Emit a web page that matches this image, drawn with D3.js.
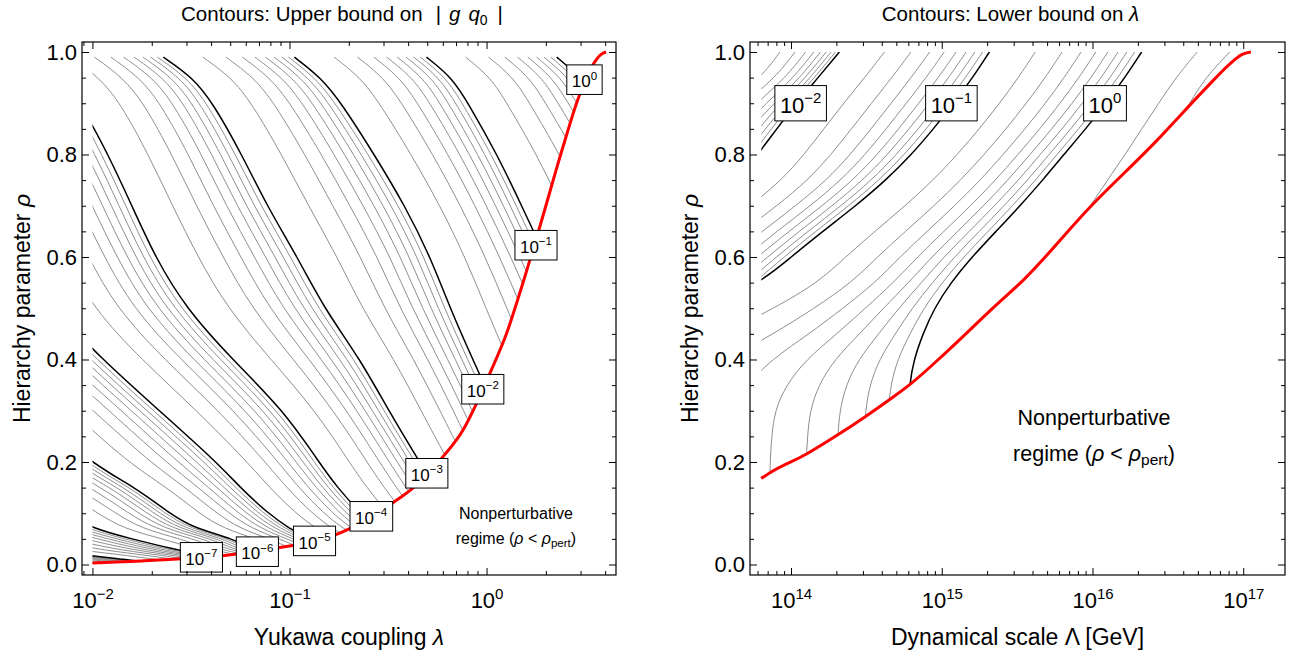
<!DOCTYPE html>
<html>
<head>
<meta charset="utf-8">
<script src="https://cdn.jsdelivr.net/npm/d3@7"></script>
<style>
  body { margin: 0; background: #fff; }
</style>
</head>
<body>
<svg id="chart" width="1298" height="657"></svg>
<script>
// ---- left panel: |g q0| contours, x = log10(lambda) where each decade line crosses a rho row
const yukRows = [0.99, 0.95, 0.9, 0.8, 0.7, 0.6, 0.5, 0.4, 0.3, 0.2, 0.15, 0.1, 0.07, 0.05, 0.03, 0.02, 0.01, 0.0];
const yukDec0  = [0.356, 0.48, 0.56, 0.72, 0.85, 0.95, null, null, null, null, null, null, null, null, null, null, null, null];
const yukDecM1 = [-0.305, -0.175, -0.093, 0.054, 0.178, 0.30, 0.42, 0.52, null, null, null, null, null, null, null, null, null, null];
const yukDecM2 = [-0.975, -0.84, -0.736, -0.57, -0.414, -0.285, -0.185, -0.07, 0.05, 0.15, null, null, null, null, null, null, null, null];
const yukDecM3 = [-1.64, -1.49, -1.388, -1.242, -1.115, -0.96, -0.825, -0.64, -0.497, -0.34, -0.26, -0.18, null, null, null, null, null, null];
const yukDecM4 = [-2.31, -2.17, -2.06, -1.92, -1.80, -1.682, -1.526, -1.29, -1.028, -0.851, -0.757, -0.64, -0.55, -0.45, null, null, null, null];
const yukDecM5 = [-3.0, -2.85, -2.74, -2.6, -2.47, -2.33, -2.2, -1.95, -1.66, -1.37, -1.25, -1.11, -1.0, -0.9, -0.75, null, null, null];
const yukDecM6 = [-3.7, -3.55, -3.42, -3.27, -3.15, -3.0, -2.87, -2.6, -2.3, -2.02, -1.78, -1.61, -1.48, -1.28, -1.2, -1.1, null, null];
const yukDecM7 = [-4.4, -4.25, -4.1, -3.95, -3.8, -3.65, -3.5, -3.25, -2.95, -2.6, -2.35, -2.13, -2.0, -1.8, -1.59, -1.45, -1.3, -1.1];
const yukDecM8 = [-5.1, -4.95, -4.8, -4.65, -4.5, -4.35, -4.2, -3.9, -3.6, -3.2, -2.95, -2.9, -2.75, -2.6, -2.35, -2.05, -1.85, -1.6];
const yukDecM9 = [null, null, null, null, null, null, null, null, null, null, null, null, null, -3.0, -2.8, -2.6, -2.3, -2.0];
// rho_pert boundary [log10(lambda), rho]
const yukRed = [[-2.0, 0.003], [-1.75, 0.007], [-1.45, 0.0135], [-1.2, 0.024], [-1.05, 0.033], [-0.88, 0.045],
  [-0.746, 0.061], [-0.68, 0.073], [-0.477, 0.12], [-0.356, 0.155], [-0.222, 0.21], [-0.12, 0.262], [-0.051, 0.314],
  [0.017, 0.373], [0.102, 0.451], [0.169, 0.53], [0.271, 0.66], [0.388, 0.815], [0.464, 0.908], [0.54, 0.975],
  [0.58, 0.995], [0.607, 1.0]];
const yukLabelExp = [0, -1, -2, -3, -4, -5, -6, -7];
const yukLabelLog = [0.497, 0.251, -0.019, -0.303, -0.586, -0.873, -1.163, -1.447];
const yukLabelRho = [0.946, 0.623, 0.342, 0.178, 0.094, 0.046, 0.025, 0.014];

// ---- right panel: lambda contours, x = log10(Lambda/GeV)
const scaleRows = [0.15, 0.2, 0.25, 0.3, 0.35, 0.4, 0.45, 0.5, 0.55, 0.6, 0.65, 0.7, 0.75, 0.8, 0.85, 0.9, 0.95, 1.0];
const scaleDecM3 = [null, null, null, null, null, null, null, null, null, null, null, null, null, 12.93, 13.12, 13.37, 13.64, 13.757];
const scaleDecM2 = [null, null, null, null, null, null, null, null, 12.81, 12.99, 13.2, 13.43, 13.64, 13.78, 13.905, 14.035, 14.18, 14.321];
const scaleDecM1 = [11.75, 11.75, 11.775, 11.83, 12.07, 12.44, 12.98, 13.43, 13.80, 14.0, 14.21, 14.43, 14.63, 14.8, 14.945, 15.08, 15.205, 15.316];
const scaleDec0  = [14.77, 14.77, 14.775, 14.78, 14.785, 14.815, 14.875, 14.95, 15.06, 15.2, 15.36, 15.52, 15.67, 15.81, 15.955, 16.09, 16.215, 16.326];
const scaleDec1  = [null, null, null, null, null, null, null, null, null, 17.2, 17.1, 17.06, 17.1, 17.16, 17.19, 17.25, 17.335, 17.55];
const scaleRed = [[13.803, 0.168], [13.866, 0.18], [14.10, 0.215], [14.305, 0.252], [14.49, 0.288], [14.65, 0.321],
  [14.80, 0.354], [15.022, 0.412], [15.353, 0.504], [15.541, 0.555], [15.983, 0.697], [16.426, 0.827],
  [16.757, 0.931], [16.912, 0.977], [16.99, 0.995], [17.051, 1.0]];
const scaleLabelExp = [-2, -1, 0];
const scaleLabelLog = [14.064, 15.064, 16.083];
const scaleLabelRho = [0.9, 0.9, 0.9];

const FONT = '"Liberation Sans", Arial, Helvetica, sans-serif';
const TOP = 42, BOTTOM = 575;
const MINUS = '\u2212';

const svg = d3.select('#chart').attr('font-family', FONT);

const expText = e => (e < 0 ? MINUS + (-e) : String(e));
const isPow10 = v => Math.abs(Math.log10(v) - Math.round(Math.log10(v))) < 1e-6;

function drawPanel(p) {
  const x = d3.scaleLog().domain(p.domain).range([p.left, p.right]);
  const y = d3.scaleLinear().domain([-0.0205, 1.0195]).range([BOTTOM, TOP]);
  const g = svg.append('g');

  // clip: region above the red boundary
  const redLine = d3.line().curve(d3.curveMonotoneX);
  const red = p.red.map(d => [x(10 ** d[0]), y(d[1])]);
  const first = red[0], last = red[red.length - 1];
  g.append('clipPath').attr('id', 'clip-' + p.id)
    .append('path')
    .attr('d', redLine(red) + `L${last[0]},${y(1)}L${first[0]},${y(1)}Z`);

  // contour levels m * 10^k, placed log-linearly between decade crossings on each row
  const dec = new Map(p.decades);
  const traces = [];
  p.decades.forEach(([k, a]) => {
    const b = dec.get(k + 1);
    d3.range(1, 10).forEach(m => {
      let pts = p.rows.map((r, i) => {
        if (a[i] == null) return null;
        if (m === 1) return [a[i], r];
        if (!b || b[i] == null) return null;
        return [a[i] + (b[i] - a[i]) * Math.log10(m), r];
      });
      if (p.rows[0] < p.rows[p.rows.length - 1]) pts = pts.reverse();
      traces.push({ k, m, pts });
    });
  });

  const contour = d3.line()
    .defined(d => d != null)
    .x(d => x(10 ** d[0]))
    .y(d => y(d[1]))
    .curve(d3.curveBasis);

  const cg = g.append('g').attr('clip-path', `url(#clip-${p.id})`).attr('fill', 'none');
  cg.selectAll('path.thin')
    .data(traces.filter(t => t.m > 1))
    .join('path')
    .attr('class', 'thin')
    .attr('d', t => contour(t.pts))
    .attr('stroke', '#8e8e8e')
    .attr('stroke-width', 1);
  cg.selectAll('path.bold')
    .data(traces.filter(t => t.m === 1))
    .join('path')
    .attr('class', 'bold')
    .attr('d', t => contour(t.pts))
    .attr('stroke', '#000')
    .attr('stroke-width', 1.5);

  g.append('path')
    .attr('d', redLine(red))
    .attr('fill', 'none')
    .attr('stroke', '#ff0000')
    .attr('stroke-width', 3);

  // contour labels
  const fs = p.labelSize;
  const labels = g.selectAll('g.clabel')
    .data(p.labels)
    .join('g')
    .attr('class', 'clabel')
    .attr('transform', d => `translate(${x(10 ** d.log)},${y(d.rho)})`);
  labels.each(function (d) {
    const el = d3.select(this);
    const t = el.append('text')
      .attr('text-anchor', 'middle')
      .attr('y', fs * 0.45)
      .attr('font-size', fs);
    t.append('tspan').text('10');
    t.append('tspan').attr('dy', -fs * 0.45).attr('font-size', fs * 0.68).text(expText(d.exp));
    const bb = t.node().getBBox();
    const h = fs * 1.15 + 10;
    el.insert('rect', 'text')
      .attr('x', bb.x - 5)
      .attr('y', -h / 2)
      .attr('width', bb.width + 10)
      .attr('height', h)
      .attr('fill', '#fff')
      .attr('stroke', '#000')
      .attr('stroke-width', 1);
  });

  // frame ticks (inward, mirrored on all sides)
  const xt = x.ticks();
  const xMajor = xt.filter(isPow10), xMinor = xt.filter(v => !isPow10(v));
  const yMajor = d3.range(0, 1.01, 0.2);
  const yMinor = d3.range(0, 1.01, 0.05).filter(v => Math.abs(v * 5 - Math.round(v * 5)) > 1e-6);

  function ticks(axisFn, scale, values, size, tr, fmt) {
    const a = axisFn(scale).tickValues(values).tickSizeInner(-size).tickSizeOuter(0);
    a.tickFormat(fmt || (() => ''));
    const ag = g.append('g').attr('transform', tr).call(a)
      .attr('font-family', FONT).attr('font-size', 22);
    ag.select('.domain').remove();
    return ag;
  }

  const xb = ticks(d3.axisBottom, x, xMajor, 7, `translate(0,${BOTTOM})`);
  xb.selectAll('.tick text').attr('y', 17).each(function (d) {
    const t = d3.select(this);
    t.append('tspan').text('10');
    t.append('tspan').attr('dy', -9).attr('font-size', 15).text(expText(Math.round(Math.log10(d))));
  });
  ticks(d3.axisBottom, x, xMinor, 4, `translate(0,${BOTTOM})`);
  ticks(d3.axisTop, x, xMajor, 7, `translate(0,${TOP})`);
  ticks(d3.axisTop, x, xMinor, 4, `translate(0,${TOP})`);
  ticks(d3.axisLeft, y, yMajor, 7, `translate(${p.left},0)`, d3.format('.1f'))
    .call(a => a.selectAll('.tick text').attr('x', -5));
  ticks(d3.axisLeft, y, yMinor, 4, `translate(${p.left},0)`);
  ticks(d3.axisRight, y, yMajor, 7, `translate(${p.right},0)`);
  ticks(d3.axisRight, y, yMinor, 4, `translate(${p.right},0)`);

  g.append('rect')
    .attr('x', p.left).attr('y', TOP)
    .attr('width', p.right - p.left).attr('height', BOTTOM - TOP)
    .attr('fill', 'none').attr('stroke', '#000').attr('stroke-width', 1.2);

  // titles
  const cx = (p.left + p.right) / 2;
  const title = g.append('text').attr('x', cx - 7).attr('y', 21)
    .attr('text-anchor', 'middle').attr('font-size', 20.5);
  p.title(title);

  const xl = g.append('text').attr('x', cx).attr('y', 645)
    .attr('text-anchor', 'middle').attr('font-size', 23);
  p.xLabel(xl);

  const yl = g.append('text')
    .attr('transform', `translate(${p.left - 52},${(TOP + BOTTOM) / 2}) rotate(-90)`)
    .attr('text-anchor', 'middle').attr('font-size', 23);
  yl.append('tspan').text('Hierarchy parameter ');
  yl.append('tspan').attr('font-style', 'italic').text('ρ');

  // nonperturbative note
  const nf = p.noteSize;
  const nx = x(10 ** p.noteLog);
  g.append('text').attr('x', nx).attr('y', p.noteY[0])
    .attr('text-anchor', 'middle').attr('font-size', nf).text('Nonperturbative');
  const n2 = g.append('text').attr('x', nx).attr('y', p.noteY[1])
    .attr('text-anchor', 'middle').attr('font-size', nf);
  n2.append('tspan').text('regime (');
  n2.append('tspan').attr('font-style', 'italic').text('ρ');
  n2.append('tspan').text(' < ');
  n2.append('tspan').attr('font-style', 'italic').text('ρ');
  n2.append('tspan').attr('font-size', nf * 0.72).attr('dy', nf * 0.2).text('pert');
  n2.append('tspan').attr('dy', -nf * 0.2).text(')');
}

drawPanel({
  id: 'yuk',
  left: 82, right: 616,
  domain: [10 ** -2.053, 10 ** 0.657],
  rows: yukRows,
  decades: [[-9, yukDecM9], [-8, yukDecM8], [-7, yukDecM7], [-6, yukDecM6], [-5, yukDecM5],
    [-4, yukDecM4], [-3, yukDecM3], [-2, yukDecM2], [-1, yukDecM1], [0, yukDec0]],
  red: yukRed,
  labels: yukLabelExp.map((e, i) => ({ exp: e, log: yukLabelLog[i], rho: yukLabelRho[i] })),
  labelSize: 17,
  noteSize: 16, noteLog: 0.149, noteY: [519, 544],
  title: t => {
    t.append('tspan').text('Contours: Upper bound on');
    t.append('tspan').attr('dx', 13).text('|');
    t.append('tspan').attr('dx', 8).attr('font-style', 'italic').text('g');
    t.append('tspan').attr('dx', 8).attr('font-style', 'italic').text('q');
    t.append('tspan').attr('font-size', 14).attr('dy', 4).text('0');
    t.append('tspan').attr('dx', 10).attr('dy', -4).text('|');
  },
  xLabel: t => {
    t.append('tspan').text('Yukawa coupling ');
    t.append('tspan').attr('font-style', 'italic').text('λ');
  }
});

drawPanel({
  id: 'scale',
  left: 750, right: 1285,
  domain: [10 ** 13.728, 10 ** 17.277],
  rows: scaleRows,
  decades: [[-3, scaleDecM3], [-2, scaleDecM2], [-1, scaleDecM1], [0, scaleDec0], [1, scaleDec1]],
  red: scaleRed,
  labels: scaleLabelExp.map((e, i) => ({ exp: e, log: scaleLabelLog[i], rho: scaleLabelRho[i] })),
  labelSize: 22,
  noteSize: 21.5, noteLog: 16.01, noteY: [425, 461],
  title: t => {
    t.append('tspan').text('Contours: Lower bound on ');
    t.append('tspan').attr('font-style', 'italic').text('λ');
  },
  xLabel: t => {
    t.append('tspan').text('Dynamical scale Λ [GeV]');
  }
});
</script>
</body>
</html>
